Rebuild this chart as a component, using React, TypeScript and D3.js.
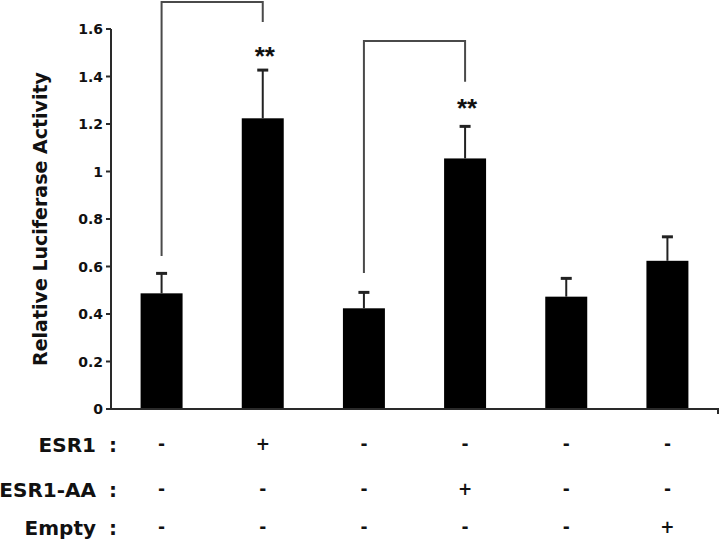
import React from "react";
import * as d3 from "d3";

// ---- data ----
const conditions = ["c1", "c2", "c3", "c4", "c5", "c6"];
const means = [0.487, 1.224, 0.424, 1.055, 0.473, 0.624];
const errors = [0.084, 0.203, 0.067, 0.135, 0.077, 0.101];
const yTicks = [0, 0.2, 0.4, 0.6, 0.8, 1, 1.2, 1.4, 1.6];
const rowLabels = ["ESR1", "ESR1-AA", "Empty"];
const esr1Row = ["-", "+", "-", "-", "-", "-"];
const esr1aaRow = ["-", "-", "-", "+", "-", "-"];
const emptyRow = ["-", "-", "-", "-", "-", "+"];
const bracketFrom = [0, 2];
const bracketTo = [1, 3];
const bracketTop = [1.714, 1.549];
const bracketLeftEnd = [0.644, 0.573];
const bracketRightEnd = [1.63, 1.378];
const starBars = [1, 3];
const starValues = [1.51, 1.293];
const starLabels = ["**", "**"];

const W = 720;
const H = 541;
const FONT = "'DejaVu Sans', Verdana, sans-serif";
const STAR_FONT = "'Liberation Sans', Arial, Helvetica, sans-serif";

export default function App() {
  const x = d3
    .scaleBand<string>()
    .domain(conditions)
    .range([111, 718])
    .paddingInner(0.585)
    .paddingOuter(0.2925);
  const y = d3.scaleLinear().domain([0, 1.6]).range([409, 29]);
  const cx = (i: number) => (x(conditions[i]) as number) + x.bandwidth() / 2;
  const rows = [esr1Row, esr1aaRow, emptyRow];
  const rowY = [452, 497, 535];
  const axisColor = "#2a2a2a";
  const lineColor = "#4a4a4a";

  return (
    <svg
      width={W}
      height={H}
      style={{ position: "absolute", left: 0, top: 0, background: "#fff" }}
      fontFamily={FONT}
      fontWeight="bold"
    >
      {/* y axis title */}
      <text
        transform={`translate(47,${(y(0) + y(1.6)) / 2}) rotate(-90)`}
        textAnchor="middle"
        fontSize={19}
        fill="#111"
      >
        Relative Luciferase Activity
      </text>

      {/* bars */}
      {means.map((m, i) => (
        <rect
          key={"b" + i}
          x={x(conditions[i])}
          y={y(m)}
          width={x.bandwidth()}
          height={y(0) - y(m)}
          fill="#000"
        />
      ))}

      {/* error bars */}
      {means.map((m, i) => (
        <g key={"e" + i} stroke="#222" strokeWidth={2}>
          <line x1={cx(i)} x2={cx(i)} y1={y(m)} y2={y(m + errors[i])} />
          <line x1={cx(i) - 5.5} x2={cx(i) + 5.5} y1={y(m + errors[i])} y2={y(m + errors[i])} strokeWidth={3} />
        </g>
      ))}

      {/* y axis */}
      <line x1={111} x2={111} y1={y(1.6)} y2={y(0) + 1} stroke={axisColor} strokeWidth={2} />
      {yTicks.map((t) => (
        <g key={"t" + t}>
          <line x1={106} x2={111} y1={y(t)} y2={y(t)} stroke={axisColor} strokeWidth={2} />
          <text x={103} y={y(t)} dy="0.36em" textAnchor="end" fontSize={14} fill="#111">
            {d3.format("~g")(t)}
          </text>
        </g>
      ))}

      {/* x axis */}
      <line x1={110} x2={719} y1={y(0)} y2={y(0)} stroke={axisColor} strokeWidth={2} />
      <line x1={718} x2={718} y1={y(0)} y2={y(0) + 5} stroke={axisColor} strokeWidth={2} />

      {/* significance brackets */}
      {bracketFrom.map((f, k) => {
        const x1 = cx(f);
        const x2 = cx(bracketTo[k]);
        const path = d3.path();
        path.moveTo(x1, y(bracketLeftEnd[k]));
        path.lineTo(x1, y(bracketTop[k]));
        path.lineTo(x2, y(bracketTop[k]));
        path.lineTo(x2, y(bracketRightEnd[k]));
        return (
          <path key={"br" + k} d={path.toString()} fill="none" stroke={lineColor} strokeWidth={2} />
        );
      })}

      {/* stars */}
      {starBars.map((b, k) => (
        <text
          key={"s" + k}
          x={cx(b) + 2}
          y={y(starValues[k]) + 15}
          textAnchor="middle"
          fontSize={26}
          fontFamily={STAR_FONT}
          fill="#111"
        >
          {starLabels[k]}
        </text>
      ))}

      {/* condition table */}
      {rowLabels.map((lab, r) => (
        <g key={"r" + r}>
          <text x={96} y={rowY[r]} textAnchor="end" fontSize={20} fill="#111">
            {lab}
          </text>
          <text x={113} y={rowY[r]} textAnchor="middle" fontSize={20} fill="#111">
            :
          </text>
          {rows[r].map((s, i) => (
            <text key={i} x={cx(i)} y={rowY[r] - 2} textAnchor="middle" fontSize={17} fill="#111">
              {s}
            </text>
          ))}
        </g>
      ))}
    </svg>
  );
}
